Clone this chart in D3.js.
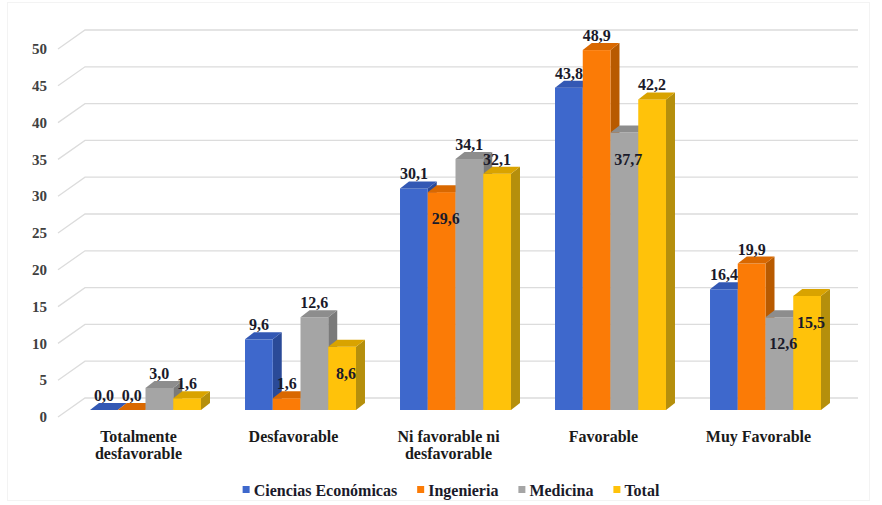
<!DOCTYPE html>
<html>
<head>
<meta charset="utf-8">
<script src="https://cdn.jsdelivr.net/npm/d3@7"></script>
<style>
  body { margin: 0; background: #fff; }
  svg text { font-family: "Liberation Serif", Tinos, "Times New Roman", "DejaVu Serif", serif; font-weight: bold; }
  .tick-label { font-size: 15px; fill: #404040; }
  .cat-label { font-size: 16px; fill: #1a1a1a; }
  .value-label { font-size: 16px; fill: #1a1a2a; }
  .legend-text { font-size: 16px; fill: #1a1a2a; }
  .grid { stroke: #dcdcdc; stroke-width: 1.3; fill: none; }
</style>
</head>
<body>
<div id="chart"></div>
<script>
// data
const categories = ["Totalmente desfavorable", "Desfavorable", "Ni favorable ni desfavorable", "Favorable", "Muy Favorable"];
const categoryLines = [["Totalmente", "desfavorable"], ["Desfavorable"], ["Ni favorable ni", "desfavorable"], ["Favorable"], ["Muy Favorable"]];
const seriesNames = ["Ciencias Económicas", "Ingenieria", "Medicina", "Total"];
const cienciasEconomicas = [0.0, 9.6, 30.1, 43.8, 16.4];
const ingenieria = [0.0, 1.6, 29.6, 48.9, 19.9];
const medicina = [3.0, 12.6, 34.1, 37.7, 12.6];
const total = [1.6, 8.6, 32.1, 42.2, 15.5];
const yTicks = [0, 5, 10, 15, 20, 25, 30, 35, 40, 45, 50];
// labels that Excel drew inside the bar top
const labelsInside = [
  ["Desfavorable", "Total"],
  ["Ni favorable ni desfavorable", "Ingenieria"],
  ["Favorable", "Medicina"],
  ["Muy Favorable", "Medicina"],
  ["Muy Favorable", "Total"]
];

const seriesValues = [cienciasEconomicas, ingenieria, medicina, total];
const colors = {
  front: ["#3e68cc", "#fb7b06", "#a5a5a5", "#ffc20a"],
  side:  ["#2a4a98", "#b85a00", "#7a7a7a", "#b58f0c"],
  top:   ["#3358b4", "#d96800", "#8d8d8d", "#d9a300"]
};

const W = 882, H = 505;
const depthX = 9, depthY = -7;

const svg = d3.select('#chart').append('svg')
  .attr('width', W)
  .attr('height', H);

// faint chart border
svg.append('rect')
  .attr('x', 7.5).attr('y', 2.5)
  .attr('width', 862).attr('height', 498)
  .attr('fill', 'none')
  .attr('stroke', '#f3f3f3');

// scales
const x0 = d3.scaleBand()
  .domain(categories)
  .range([68, 843])
  .paddingInner(0.284)
  .paddingOuter(0.142);

const x1 = d3.scaleBand()
  .domain(seriesNames)
  .range([0, x0.bandwidth()]);

const y = d3.scaleLinear()
  .domain([0, 50])
  .range([410, 42]);

const fmt = v => d3.format('.1f')(v).replace('.', ',');

// back wall grid + side wall diagonals
const grid = svg.append('g');
yTicks.forEach(t => {
  grid.append('path')
    .attr('class', 'grid')
    .attr('d', `M58,${y(t) + 7} L85,${y(t) - 12} L858,${y(t) - 12}`);
});

// y tick labels
svg.append('g')
  .selectAll('text')
  .data(yTicks)
  .join('text')
  .attr('class', 'tick-label')
  .attr('x', 47)
  .attr('y', d => y(d) + 7)
  .attr('dy', '0.35em')
  .attr('text-anchor', 'end')
  .text(d => d);

// bars
const bars = svg.append('g');
const labels = [];
categories.forEach((cat, ci) => {
  seriesNames.forEach((s, si) => {
    const v = seriesValues[si][ci];
    const bx = x0(cat) + x1(s);
    const bw = x1.bandwidth();
    const yt = y(v), yb = y(0);
    // side face
    if (v > 0) {
      bars.append('path')
        .attr('d', `M${bx + bw},${yb} L${bx + bw + depthX},${yb + depthY} L${bx + bw + depthX},${yt + depthY} L${bx + bw},${yt} Z`)
        .attr('fill', colors.side[si]);
      bars.append('rect')
        .attr('x', bx).attr('y', yt)
        .attr('width', bw).attr('height', yb - yt)
        .attr('fill', colors.front[si]);
    }
    // top face
    bars.append('path')
      .attr('d', `M${bx},${yt} L${bx + depthX},${yt + depthY} L${bx + bw + depthX},${yt + depthY} L${bx + bw},${yt} Z`)
      .attr('fill', colors.top[si]);

    const inside = labelsInside.some(p => p[0] === cat && p[1] === s);
    labels.push({
      x: bx + bw / 2 + (inside ? 4 : 0),
      y: inside ? yt + 32 : yt - 9,
      text: fmt(v)
    });
  });
});

svg.append('g')
  .selectAll('text')
  .data(labels)
  .join('text')
  .attr('class', 'value-label')
  .attr('x', d => d.x)
  .attr('y', d => d.y)
  .attr('text-anchor', 'middle')
  .text(d => d.text);

// category labels
const catG = svg.append('g');
categories.forEach((cat, ci) => {
  const t = catG.append('text')
    .attr('class', 'cat-label')
    .attr('text-anchor', 'middle')
    .attr('x', x0(cat) + x0.bandwidth() / 2 - 7)
    .attr('y', 442);
  categoryLines[ci].forEach((ln, li) => {
    t.append('tspan')
      .attr('x', x0(cat) + x0.bandwidth() / 2 - 7)
      .attr('dy', li === 0 ? 0 : 17)
      .text(ln);
  });
});

// legend
const legend = svg.append('g');
let lx = 0;
seriesNames.forEach((s, si) => {
  const g = legend.append('g');
  g.append('rect')
    .attr('x', 0).attr('y', -4)
    .attr('width', 7).attr('height', 7)
    .attr('fill', colors.front[si]);
  const tx = g.append('text')
    .attr('class', 'legend-text')
    .attr('x', 11)
    .attr('y', 0)
    .attr('dy', '0.35em')
    .text(s);
  const w = 11 + tx.node().getComputedTextLength();
  g.attr('transform', `translate(${lx},0)`);
  lx += w + 20;
});
const legendW = lx - 20;
legend.attr('transform', `translate(${451 - legendW / 2},490)`);
</script>
</body>
</html>
